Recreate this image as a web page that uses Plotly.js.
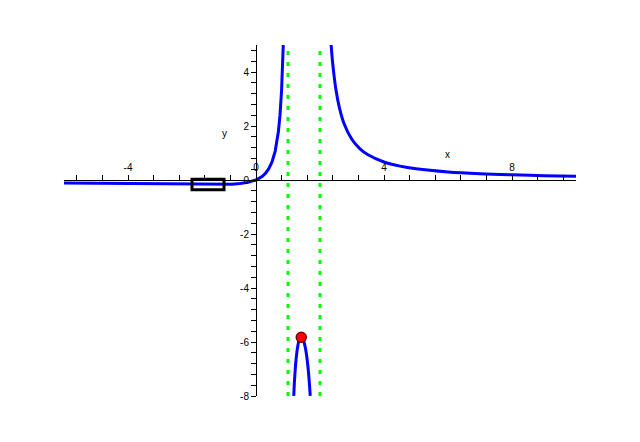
<!DOCTYPE html>
<html>
<head>
<meta charset="utf-8">
<script src="https://cdn.plot.ly/plotly-3.0.1.min.js"></script>
<style>html,body{margin:0;padding:0;background:#fff;}#chart{width:640px;height:442px;}</style>
</head>
<body>
<div id="chart"></div>
<script>
// Left branch (x < 1)
var leftX = [-6, -5, -4, -3, -2.5, -2, -1.75, -1.5, -1.25, -1, -0.75, -0.5, -0.25, 0, 0.1, 0.2, 0.3, 0.4, 0.5, 0.6, 0.7, 0.75, 0.8, 0.83, 0.852];
var leftY = [-0.1071, -0.1190, -0.1333, -0.15, -0.1587, -0.1667, -0.1697, -0.1714, -0.1709, -0.1667, -0.1558, -0.1333, -0.0889, 0, 0.0585, 0.1389, 0.2521, 0.4167, 0.6667, 1.0714, 1.7949, 2.4, 3.3333, 4.1729, 5.01];
// Middle branch (1 < x < 2)
var midX = [1.18, 1.2, 1.25, 1.3, 1.35, 1.4142, 1.45, 1.5, 1.55, 1.6, 1.65, 1.695];
var midY = [-7.9946, -7.5, -6.6667, -6.1905, -5.9341, -5.8284, -5.8586, -6, -6.2626, -6.6667, -7.2527, -7.9962];
// Right branch (x > 2)
var rightX = [2.348, 2.4, 2.5, 2.6, 2.75, 3, 3.25, 3.5, 4, 4.5, 5, 6, 7, 8, 9, 10];
var rightY = [5.0053, 4.2857, 3.3333, 2.7083, 2.0952, 1.5, 1.1556, 0.9333, 0.6667, 0.5143, 0.4167, 0.3, 0.2333, 0.1905, 0.1607, 0.1389];
// Vertical asymptotes
var asymptoteX = [1, 2];
var asymptoteYSpan = [-8, 5];
// Local maximum point
var peakX = [1.4142];
var peakY = [-5.8284];
// Box
var boxX = [-2, -1];
var boxY = [-0.36, 0.03];
// Axis ticks
var xTickVals = [-4, 0, 4, 8];
var xTickText = ['-4', '0', '4', '8'];
var yTickVals = [-8, -6, -4, -2, 0, 2, 4];
var yTickText = ['-8', '-6', '-4', '-2', '0', '2', '4'];
var xRange = [-6, 10];
var yRange = [-8, 5];

var blue = '#0000ff';
var traces = [];
asymptoteX.forEach(function (ax) {
  traces.push({x: [ax, ax], y: asymptoteYSpan, mode: 'lines', line: {color: '#00ff00', width: 3, dash: '4px,7px'}, hoverinfo: 'skip'});
});
traces.push({x: leftX, y: leftY, mode: 'lines', line: {color: blue, width: 3}});
traces.push({x: midX, y: midY, mode: 'lines', line: {color: blue, width: 3, shape: 'spline'}});
traces.push({x: rightX, y: rightY, mode: 'lines', line: {color: blue, width: 3, shape: 'spline'}});
traces.push({x: peakX, y: peakY, mode: 'markers', marker: {color: '#ff0000', size: 10, line: {color: '#800000', width: 1.5}}, cliponaxis: false});

var fnt = {family: 'Liberation Sans, Arial, sans-serif', size: 10, color: '#000'};
var layout = {
  width: 640, height: 442,
  margin: {l: 64, r: 64, t: 45, b: 46},
  paper_bgcolor: '#fff', plot_bgcolor: '#fff',
  showlegend: false,
  xaxis: {
    range: xRange, anchor: 'free', position: (0 - yRange[0]) / (yRange[1] - yRange[0]), side: 'top',
    showgrid: false, zeroline: false, showline: true, linecolor: '#000', linewidth: 1,
    ticks: 'outside', ticklen: 5, tickcolor: '#000', tickwidth: 1,
    tickvals: xTickVals, ticktext: xTickText, tickfont: fnt,
    minor: {dtick: 0.8, tick0: 0, ticks: 'outside', ticklen: 5, tickcolor: '#000', showgrid: false}
  },
  yaxis: {
    range: yRange, anchor: 'free', position: (0 - xRange[0]) / (xRange[1] - xRange[0]), side: 'left',
    showgrid: false, zeroline: false, showline: true, linecolor: '#000', linewidth: 1,
    ticks: 'outside', ticklen: 5, tickcolor: '#000', tickwidth: 1,
    tickvals: yTickVals, ticktext: yTickText, tickfont: fnt,
    minor: {dtick: 0.4, tick0: 0, ticks: 'outside', ticklen: 5, tickcolor: '#000', showgrid: false}
  },
  shapes: [{type: 'rect', xref: 'x', yref: 'y', x0: boxX[0], x1: boxX[1], y0: boxY[0], y1: boxY[1], line: {color: '#000', width: 3}}],
  annotations: [
    {x: 5.97, y: 0.93, xref: 'x', yref: 'y', text: 'x', showarrow: false, font: fnt},
    {x: -0.97, y: 1.74, xref: 'x', yref: 'y', text: 'y', showarrow: false, font: fnt}
  ]
};
Plotly.newPlot('chart', traces, layout, {displayModeBar: false, staticPlot: true});
</script>
</body>
</html>
